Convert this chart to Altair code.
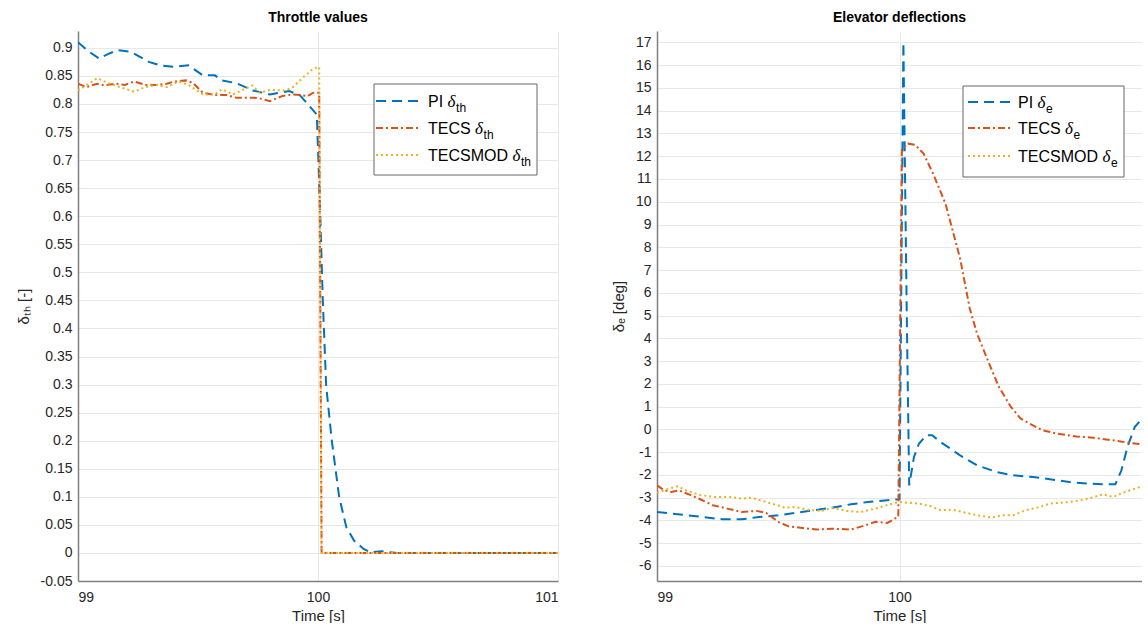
import altair as alt
import pandas as pd

# ---------------- data ----------------
# Throttle values
pi_th_t = [99.0, 99.04, 99.088, 99.12, 99.165, 99.22, 99.295, 99.34, 99.40, 99.46, 99.52, 99.57,
           99.60, 99.66, 99.73, 99.80, 99.84, 99.88, 99.926, 99.965, 99.995, 100.008, 100.02,
           100.034, 100.057, 100.088, 100.118, 100.15, 100.19, 100.22, 100.265, 100.33, 101.0]
pi_th_v = [0.91, 0.895, 0.881, 0.888, 0.896, 0.893, 0.875, 0.869, 0.866, 0.869, 0.851, 0.851,
           0.842, 0.837, 0.824, 0.817, 0.82, 0.823, 0.815, 0.796, 0.781, 0.62, 0.45,
           0.298, 0.202, 0.10, 0.046, 0.022, 0.007, 0.001, 0.003, 0.0, 0.0]

tecs_th_t = [99.0, 99.034, 99.08, 99.11, 99.157, 99.195, 99.234, 99.28, 99.326, 99.37, 99.40,
             99.45, 99.48, 99.52, 99.57, 99.62, 99.66, 99.73, 99.757, 99.80, 99.85, 99.895,
             99.926, 99.957, 99.98, 100.005, 100.015, 101.0]
tecs_th_v = [0.836, 0.83, 0.836, 0.833, 0.836, 0.834, 0.84, 0.834, 0.834, 0.836, 0.84,
             0.842, 0.837, 0.82, 0.816, 0.816, 0.811, 0.811, 0.81, 0.805, 0.814, 0.817,
             0.816, 0.814, 0.82, 0.82, 0.0, 0.0]

mod_th_t = [99.0, 99.034, 99.08, 99.126, 99.19, 99.234, 99.28, 99.326, 99.37, 99.418, 99.46,
            99.52, 99.57, 99.60, 99.646, 99.726, 99.757, 99.80, 99.864, 99.895, 99.94, 99.98,
            100.005, 100.015, 101.0]
mod_th_v = [0.824, 0.833, 0.846, 0.837, 0.828, 0.822, 0.83, 0.834, 0.83, 0.84, 0.834,
            0.817, 0.817, 0.826, 0.817, 0.833, 0.82, 0.825, 0.824, 0.83, 0.848, 0.863,
            0.866, 0.0, 0.0]

# Elevator deflections
pi_e_t = [99.0, 99.123, 99.27, 99.35, 99.42, 99.50, 99.57, 99.65, 99.72, 99.80, 99.87, 99.95,
          100.0, 100.016, 100.03, 100.04, 100.06, 100.08, 100.11, 100.135, 100.17, 100.25,
          100.32, 100.40, 100.47, 100.55, 100.62, 100.70, 100.77, 100.85, 100.89, 100.915,
          100.94, 100.97, 101.0]
pi_e_v = [-3.63, -3.77, -3.95, -3.95, -3.85, -3.77, -3.67, -3.55, -3.44, -3.29, -3.19, -3.11,
          -3.07, 17.0, 5.0, -2.46, -1.2, -0.63, -0.26, -0.26, -0.56, -1.14,
          -1.58, -1.87, -2.02, -2.09, -2.19, -2.31, -2.38, -2.41, -2.41, -1.8,
          -0.77, 0.1, 0.47]

tecs_e_t = [99.0, 99.03, 99.06, 99.09, 99.14, 99.18, 99.23, 99.29, 99.35, 99.41, 99.45, 99.50,
            99.54, 99.60, 99.66, 99.72, 99.80, 99.86, 99.90, 99.95, 99.98, 99.995, 100.01,
            100.035, 100.065, 100.10, 100.14, 100.19, 100.25, 100.29, 100.32, 100.37, 100.41,
            100.46, 100.50, 100.55, 100.59, 100.65, 100.73, 100.80, 100.88, 100.94, 101.0]
tecs_e_v = [-2.46, -2.68, -2.75, -2.68, -2.89, -3.08, -3.33, -3.48, -3.63, -3.58, -3.67, -4.06,
            -4.25, -4.33, -4.40, -4.36, -4.40, -4.21, -4.06, -4.11, -3.92, -3.85, 12.3,
            12.55, 12.5, 12.1, 11.2, 9.9, 7.5, 5.3, 4.2, 2.88, 1.86,
            0.98, 0.47, 0.18, -0.04, -0.19, -0.31, -0.37, -0.48, -0.58, -0.66]

mod_e_t = [99.0, 99.05, 99.085, 99.12, 99.18, 99.24, 99.30, 99.35, 99.39, 99.45, 99.53, 99.57,
           99.63, 99.68, 99.72, 99.78, 99.84, 99.90, 99.96, 100.0, 100.04, 100.08, 100.13,
           100.17, 100.22, 100.26, 100.32, 100.38, 100.43, 100.47, 100.52, 100.58, 100.62,
           100.70, 100.77, 100.84, 100.88, 100.92, 101.0]
mod_e_v = [-2.79, -2.60, -2.50, -2.68, -2.89, -2.97, -2.97, -3.04, -3.0, -3.19, -3.44, -3.41,
           -3.55, -3.58, -3.44, -3.58, -3.63, -3.48, -3.29, -3.19, -3.23, -3.26, -3.38,
           -3.55, -3.52, -3.63, -3.77, -3.87, -3.77, -3.77, -3.55, -3.41, -3.26,
           -3.19, -3.07, -2.85, -2.97, -2.79, -2.50]

series_names = ["PI", "TECS", "TECSMOD"]
th_ticks = [-0.05, 0.0, 0.05, 0.1, 0.15, 0.2, 0.25, 0.3, 0.35, 0.4, 0.45, 0.5, 0.55, 0.6,
            0.65, 0.7, 0.75, 0.8, 0.85, 0.9]
e_ticks = list(range(-6, 18))

# ---------------- styling ----------------
FONT = "Liberation Sans"
SERIF = "Liberation Serif"
COLORS = ["#0072BD", "#D95319", "#EDB120"]
DASHES = [[10, 6], [7, 3, 2, 3], [2, 3]]
TXT = "#262626"
LEG_FS = 16
# approximate advance widths (px) of "<name> " at 16px Liberation Sans
NAME_W = {"PI": 19.6, "TECS": 47.1, "TECSMOD": 84.4}
DELTA_W = 8.5


def long_df(ts, vs):
    rows = []
    for name, t, v in zip(series_names, ts, vs):
        for a, b in zip(t, v):
            rows.append({"series": name, "t": a, "v": b})
    return pd.DataFrame(rows)


def panel(df, ydomain, yticks, ytitle, xticks, title, w, h, leg, sub):
    lines = alt.Chart(df).mark_line(strokeWidth=2, clip=True).encode(
        x=alt.X("t:Q", scale=alt.Scale(domain=[99, 101], nice=False, zero=False),
                axis=alt.Axis(values=xticks, title="Time [s]", labelExpr="'' + datum.value")),
        y=alt.Y("v:Q", scale=alt.Scale(domain=ydomain, nice=False, zero=False),
                axis=alt.Axis(values=yticks, title=ytitle, labelExpr="'' + datum.value")),
        color=alt.Color("series:N", scale=alt.Scale(domain=series_names, range=COLORS), legend=None),
        strokeDash=alt.StrokeDash("series:N", scale=alt.Scale(domain=series_names, range=DASHES),
                                  legend=None),
    )
    one = pd.DataFrame({"k": [0]})
    bx0, bx1, by0, by1, lx0, lx1, tx, rows = leg
    layers = [lines]
    layers.append(alt.Chart(one).mark_rect(fill="white", stroke="#666666", strokeWidth=1).encode(
        x=alt.value(bx0), x2=alt.value(bx1), y=alt.value(by0), y2=alt.value(by1)))
    for i, name in enumerate(series_names):
        y = rows[i]
        layers.append(alt.Chart(one).mark_rule(color=COLORS[i], strokeDash=DASHES[i], strokeWidth=2).encode(
            x=alt.value(lx0), x2=alt.value(lx1), y=alt.value(y)))
        layers.append(alt.Chart(one).mark_text(align="left", baseline="alphabetic", font=FONT,
                                               fontSize=LEG_FS, color="#000000").encode(
            x=alt.value(tx), y=alt.value(y + 6), text=alt.value(name)))
        layers.append(alt.Chart(one).mark_text(align="left", baseline="alphabetic", font=SERIF,
                                               fontStyle="italic", fontSize=LEG_FS + 1,
                                               color="#000000").encode(
            x=alt.value(tx + NAME_W[name]), y=alt.value(y + 6), text=alt.value("δ")))
        layers.append(alt.Chart(one).mark_text(align="left", baseline="alphabetic", font=FONT,
                                               fontSize=12, color="#000000").encode(
            x=alt.value(tx + NAME_W[name] + DELTA_W), y=alt.value(y + 11), text=alt.value(sub)))
    return alt.layer(*layers).properties(
        width=w, height=h,
        title=alt.TitleParams(title, frame="group", anchor="middle"))


left = panel(long_df([pi_th_t, tecs_th_t, mod_th_t], [pi_th_v, tecs_th_v, mod_th_v]),
             [-0.05, 0.93], th_ticks, "δₜₕ [-]", [99, 100, 101], "Throttle values", 480, 550,
             (296, 459, 53, 144, 298, 343, 350, [70, 97, 124]), "th")
right = panel(long_df([pi_e_t, tecs_e_t, mod_e_t], [pi_e_v, tecs_e_v, mod_e_v]),
              [-6.66, 17.5], e_ticks, "δₑ [deg]", [99, 100], "Elevator deflections", 485, 550,
              (306, 467, 55, 146, 311, 356, 361, [71, 97, 125]), "e")

chart = alt.hconcat(left, right, spacing=53).resolve_scale(
    color="independent", strokeDash="independent", x="independent", y="independent"
).properties(
    padding={"left": 16, "top": 11, "right": 0, "bottom": 0}, background="white"
).configure_axis(
    labelFont=FONT, labelFontSize=14, labelColor=TXT, labelPadding=6,
    titleFont=FONT, titleFontSize=15, titleFontWeight="normal", titleColor=TXT, titlePadding=9,
).configure_axisX(labelPadding=9, titlePadding=4
).configure_axis(
    labelFont=FONT, labelFontSize=14, labelColor=TXT, labelPadding=6,
    titleFont=FONT, titleFontSize=15, titleFontWeight="normal", titleColor=TXT, titlePadding=9,
    gridColor="#e8e8e8", gridWidth=1, domainColor="#808080", domainWidth=1.5, ticks=False,
).configure_title(
    font=FONT, fontSize=14, fontWeight="bold", color="#000000", offset=6
).configure_view(stroke=None)

chart.save("out.html", embed_options={"renderer": "svg", "actions": False})
